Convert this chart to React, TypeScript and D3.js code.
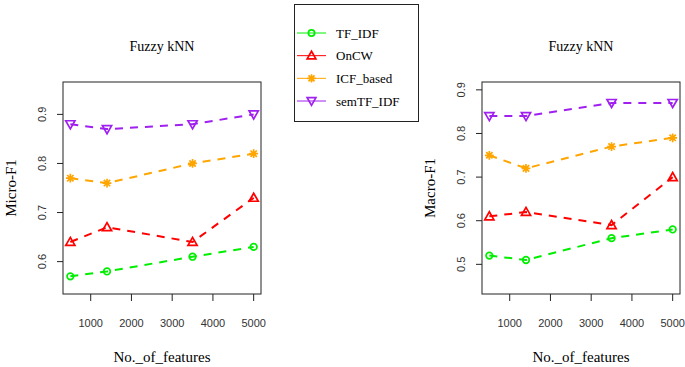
import * as d3 from "d3";
import { useEffect } from "react";

// number of features on the x axis
const features = [500, 1400, 3500, 5000];
const xTicks = [1000, 2000, 3000, 4000, 5000];

const seriesNames = ["TF_IDF", "OnCW", "ICF_based", "semTF_IDF"];
const seriesColors = ["#00EE00", "#FF0000", "#FFA500", "#A020F0"];
const seriesShapes = ["circle", "triUp", "star", "triDown"];

// Micro-F1 (left panel)
const microTfIdf = [0.57, 0.58, 0.61, 0.63];
const microOnCW = [0.64, 0.67, 0.64, 0.73];
const microIcf = [0.77, 0.76, 0.8, 0.82];
const microSem = [0.88, 0.87, 0.88, 0.9];
const microLim = [0.55, 0.95];
const microTicks = [0.6, 0.7, 0.8, 0.9];

// Macro-F1 (right panel)
const macroTfIdf = [0.52, 0.51, 0.56, 0.58];
const macroOnCW = [0.61, 0.62, 0.59, 0.7];
const macroIcf = [0.75, 0.72, 0.77, 0.79];
const macroSem = [0.84, 0.84, 0.87, 0.87];
const macroLim = [0.45, 0.9];
const macroTicks = [0.5, 0.6, 0.7, 0.8, 0.9];

const SERIF = "'Liberation Serif', 'DejaVu Serif', serif";
const SANS = "'Liberation Sans', Arial, sans-serif";

// R-style 4% axis extension
const extend = (lim: number[]) => {
  const r = (lim[1] - lim[0]) * 0.04;
  return [lim[0] - r, lim[1] + r];
};

function Marker({ shape, x, y, color, s = 1 }: any) {
  if (shape === "circle")
    return <circle cx={x} cy={y} r={3.3 * s} fill="none" stroke={color} strokeWidth={1.7} />;
  if (shape === "triUp") {
    const h = 4.6 * s;
    return (
      <path
        d={`M${x},${y - h} L${x + h},${y + h * 0.75} L${x - h},${y + h * 0.75} Z`}
        fill="none" stroke={color} strokeWidth={1.7}
      />
    );
  }
  if (shape === "triDown") {
    const h = 4.6 * s;
    return (
      <path
        d={`M${x},${y + h} L${x + h},${y - h * 0.75} L${x - h},${y - h * 0.75} Z`}
        fill="none" stroke={color} strokeWidth={1.7}
      />
    );
  }
  const a = 4.4 * s;
  const b = a * 0.72;
  return (
    <path
      d={`M${x - a},${y} H${x + a} M${x},${y - a} V${y + a} M${x - b},${y - b} L${x + b},${y + b} M${x - b},${y + b} L${x + b},${y - b}`}
      stroke={color} strokeWidth={1.7}
    />
  );
}

function Panel({ left, yLabel, lim, ticks, series }: any) {
  const top = 82;
  const bottom = 294;
  const width = 198;
  const x = d3.scaleLinear().domain(extend([500, 5000])).range([left, left + width]);
  const y = d3.scaleLinear().domain(extend(lim)).range([bottom, top]);
  const line = d3.line<number>().x((_, i) => x(features[i])).y((d) => y(d));
  const midY = (top + bottom) / 2;

  return (
    <g>
      <text x={left + width / 2} y={51} textAnchor="middle" fontFamily={SERIF} fontSize={14}>
        Fuzzy kNN
      </text>
      <rect x={left} y={top} width={width} height={bottom - top} fill="none" stroke="#222" strokeWidth={1} />
      {ticks.map((t: number) => (
        <g key={t}>
          <line x1={left - 6} x2={left} y1={y(t)} y2={y(t)} stroke="#222" />
          <text
            transform={`translate(${left - 21},${y(t)}) rotate(-90)`}
            textAnchor="middle" dy="0.35em" fontFamily={SANS} fontSize={11} fill="#333"
          >
            {t.toFixed(1)}
          </text>
        </g>
      ))}
      {xTicks.map((t) => (
        <g key={t}>
          <line x1={x(t)} x2={x(t)} y1={bottom} y2={bottom + 7} stroke="#222" />
          <text x={x(t)} y={bottom + 33} textAnchor="middle" fontFamily={SANS} fontSize={11} fill="#333">
            {t}
          </text>
        </g>
      ))}
      <text x={left + width / 2} y={362} textAnchor="middle" fontFamily={SERIF} fontSize={15}>
        No._of_features
      </text>
      <text
        transform={`translate(${left - 52},${midY}) rotate(-90)`}
        textAnchor="middle" dy="0.35em" fontFamily={SERIF} fontSize={15}
      >
        {yLabel}
      </text>
      {series.map((vals: number[], k: number) => (
        <g key={k}>
          <path d={line(vals) || ""} fill="none" stroke={seriesColors[k]} strokeWidth={2} strokeDasharray="8,7" />
          {vals.map((v, i) => (
            <Marker key={i} shape={seriesShapes[k]} x={x(features[i])} y={y(v)} color={seriesColors[k]} />
          ))}
        </g>
      ))}
    </g>
  );
}

export default function App() {
  useEffect(() => {
    document.body.style.margin = "0";
  }, []);

  const legendY = d3.scaleLinear().domain([0, 3]).range([33, 101]);

  return (
    <svg width={685} height={367} style={{ display: "block", background: "#fff" }}>
      <Panel left={63} yLabel="Micro-F1" lim={microLim} ticks={microTicks}
        series={[microTfIdf, microOnCW, microIcf, microSem]} />
      <Panel left={482} yLabel="Macro-F1" lim={macroLim} ticks={macroTicks}
        series={[macroTfIdf, macroOnCW, macroIcf, macroSem]} />
      <rect x={294.5} y={4.5} width={124} height={117} fill="#fff" stroke="#222" strokeWidth={1} />
      {seriesNames.map((name, k) => (
        <g key={name}>
          <line x1={297} x2={326} y1={legendY(k)} y2={legendY(k)} stroke={seriesColors[k]} strokeWidth={1} />
          <Marker shape={seriesShapes[k]} x={311.5} y={legendY(k)} color={seriesColors[k]} s={0.95} />
          <text x={336} y={legendY(k)} dy="0.35em" fontFamily={SERIF} fontSize={13}>
            {name}
          </text>
        </g>
      ))}
    </svg>
  );
}
